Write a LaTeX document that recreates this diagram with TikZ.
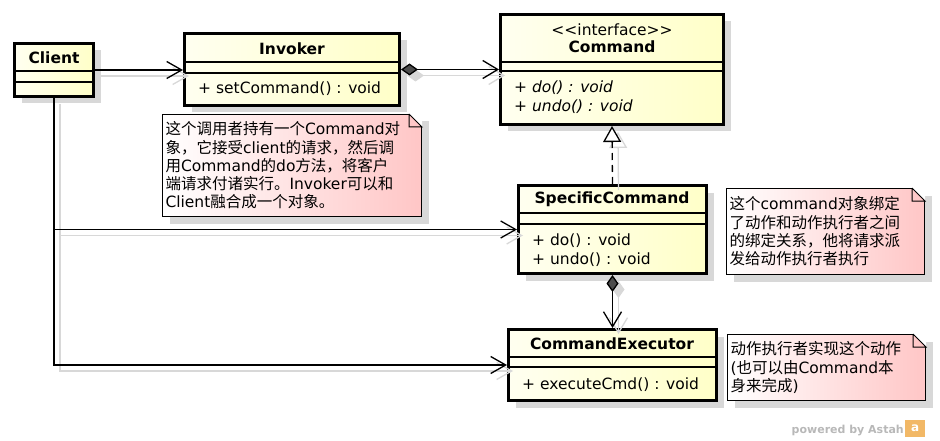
\documentclass[tikz,border=0pt]{standalone}
\usepackage{fontspec}
\setmainfont{DejaVu Sans}
\newfontfamily\zhfont{Noto Sans CJK SC}
\usetikzlibrary{arrows.meta}
\usetikzlibrary{shadows}

\definecolor{clsleft}{HTML}{FFFFF0}
\definecolor{clsright}{HTML}{FFFFC8}
\definecolor{notepink}{HTML}{FFC6C6}
\definecolor{shadowgray}{HTML}{D8D8D8}
\definecolor{diamondgray}{HTML}{4C4C4C}
\definecolor{astahgray}{HTML}{B8B8B8}
\definecolor{astahorange}{HTML}{F2B866}

\tikzset{
  umlclass/.style={draw, line width=3pt, anchor=north west, inner sep=0pt,
    left color=clsleft, right color=clsright,
    drop shadow={shadow xshift=7pt, shadow yshift=-7pt, fill=shadowgray, opacity=1}},
  umlnote/.style={draw, line width=1pt, anchor=north west, align=left,
    inner xsep=3pt, inner ysep=0pt, left color=white, right color=notepink,
    font=\fontsize{15.5}{18.3}\selectfont,
    drop shadow={shadow xshift=7pt, shadow yshift=-7pt, fill=shadowgray, opacity=1}},
  clsname/.style={font=\fontsize{15.5}{18}\selectfont\bfseries, anchor=base, inner sep=0pt},
  stereo/.style={font=\fontsize{15.5}{18}\selectfont, anchor=base, inner sep=0pt},
  member/.style={font=\fontsize{15.5}{18}\selectfont, anchor=base west, inner sep=0pt},
  divider/.style={line width=1.3pt},
  link/.style={line width=1.3pt},
  assoc/.style={link, -{Straight Barb[length=15pt,width=17pt]}},
  comp/.style={link, {Diamond[length=17pt,width=12pt,fill=#1]}-{Straight Barb[length=15pt,width=18pt]}},
  comp/.default=diamondgray,
  realize/.style={link, dash pattern=on 7pt off 5pt, -{Triangle[length=16pt,width=18pt,fill=white]}},
}

\begin{document}
\begin{tikzpicture}[x=1pt, y=-1pt]
  \useasboundingbox (0,0) rectangle (940,441);

  % classes
  \node[umlclass, minimum width=79pt, minimum height=53pt] (client) at (13,42) {};
  \node[umlclass, minimum width=215pt, minimum height=72pt] (invoker) at (183,32) {};
  \node[umlclass, minimum width=223pt, minimum height=110pt] (command) at (499,13) {};
  \node[umlclass, minimum width=188pt, minimum height=88pt] (spec) at (517,184) {};
  \node[umlclass, minimum width=208pt, minimum height=71pt] (executor) at (507,328) {};

  % compartments
  \draw[divider] (client.west |- 0,71) -- (client.east |- 0,71);
  \draw[divider] (client.west |- 0,82) -- (client.east |- 0,82);
  \draw[divider] (invoker.west |- 0,62) -- (invoker.east |- 0,62);
  \draw[divider] (invoker.west |- 0,73) -- (invoker.east |- 0,73);
  \draw[divider] (command.west |- 0,62) -- (command.east |- 0,62);
  \draw[divider] (command.west |- 0,71) -- (command.east |- 0,71);
  \draw[divider] (spec.west |- 0,213) -- (spec.east |- 0,213);
  \draw[divider] (spec.west |- 0,224) -- (spec.east |- 0,224);
  \draw[divider] (executor.west |- 0,357) -- (executor.east |- 0,357);
  \draw[divider] (executor.west |- 0,367) -- (executor.east |- 0,367);

  \node[clsname] (clientname) at (54,64) {Client};
  \node[clsname] (invokername) at (292,55) {Invoker};
  \node[member] (setcmd) at (198,94) {+ setCommand() : void};
  \node[stereo] (stereotype) at (612,36) {<{}<interface>{}>};
  \node[clsname] (commandname) at (612,53) {Command};
  \node[member, font=\fontsize{15.5}{18}\selectfont\itshape] (ido) at (514,93) {+ do() : void};
  \node[member, font=\fontsize{15.5}{18}\selectfont\itshape] (iundo) at (514,112) {+ undo() : void};
  \node[clsname] (specname) at (612,204) {SpecificCommand};
  \node[member] (sdo) at (532,245) {+ do() : void};
  \node[member] (sundo) at (532,264) {+ undo() : void};
  \node[clsname] (execname) at (612,349) {CommandExecutor};
  \node[member] (execcmd) at (522,389) {+ executeCmd() : void};

  % notes
  \node[umlnote, text width=253pt, minimum height=102pt] (note1) at (162,114)
    {{\zhfont 这个调用者持有一个}Command{\zhfont 对}\\
     {\zhfont 象，它接受}client{\zhfont 的请求，然后调}\\
     {\zhfont 用}Command{\zhfont 的}do{\zhfont 方法，将客户}\\
     {\zhfont 端请求付诸实行。}Invoker{\zhfont 可以和}\\
     Client{\zhfont 融合成一个对象。}};
  \node[umlnote, text width=192pt, minimum height=86pt] (note2) at (726,188)
    {{\zhfont 这个}command{\zhfont 对象绑定}\\
     {\zhfont 了动作和动作执行者之间}\\
     {\zhfont 的绑定关系，他将请求派}\\
     {\zhfont 发给动作执行者执行}};
  \node[umlnote, text width=192pt, minimum height=66pt] (note3) at (727,334)
    {{\zhfont 动作执行者实现这个动作}\\
     ({\zhfont 也可以由}Command{\zhfont 本}\\
     {\zhfont 身来完成})};
  \foreach \n in {note1,note2,note3} {
    \fill[white] ([xshift=-13pt]\n.north east) -- (\n.north east) -- ([yshift=-13pt]\n.north east) -- cycle;
    \draw[line width=1pt] ([xshift=-13pt]\n.north east) -- ([yshift=-13pt]\n.north east)
      -| ([xshift=-13pt]\n.north east);
  }

  % connector shadows
  \begin{scope}[color=shadowgray, transform canvas={shift={(6pt,-6pt)}}]
    \draw[assoc] (client.east) -- (client.east -| invoker.west);
    \draw[comp=shadowgray] (invoker.east) -- (invoker.east -| command.west);
    \draw[realize, solid] (spec.north) -- (command.south);
    \draw[comp=shadowgray] (spec.south) -- (executor.north);
    \draw[assoc] (client.south) |- (spec.west);
    \draw[assoc] (client.south) |- (executor.west);
  \end{scope}

  % connectors
  \draw[assoc] (client.east) -- (client.east -| invoker.west);
  \draw[comp] (invoker.east) -- (invoker.east -| command.west);
  \draw[realize] (spec.north) -- (command.south);
  \draw[comp] (spec.south) -- (executor.north);
  \draw[assoc] (client.south) |- (spec.west);
  \draw[assoc] (client.south) |- (executor.west);

  % footer
  \node[font=\fontsize{11}{13}\selectfont\bfseries, text=astahgray, anchor=base east, inner sep=0pt]
    (powered) at (904,433) {powered by Astah};
  \node[fill=astahorange, text=white, font=\fontsize{12}{13}\selectfont\bfseries, inner sep=0pt,
    minimum width=20pt, minimum height=17pt, anchor=north west] (logo) at (905,420) {a};
\end{tikzpicture}
\end{document}
